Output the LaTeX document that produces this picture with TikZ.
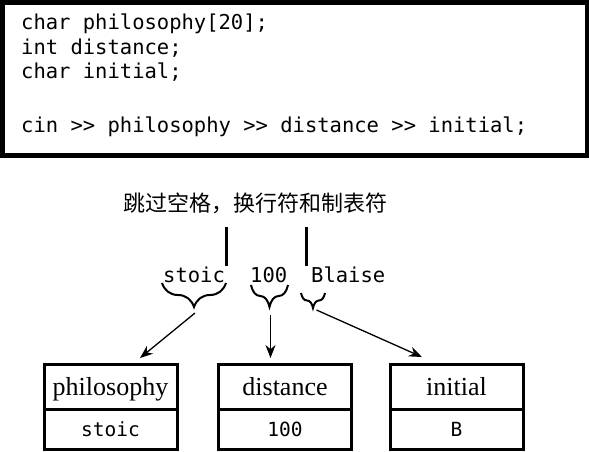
\documentclass[tikz,border=0pt]{standalone}
\usepackage{fontspec}
\setmainfont{Liberation Serif}
\setmonofont{DejaVu Sans Mono}
\newfontfamily\cjk{Noto Sans CJK SC}
\usetikzlibrary{calc}
\usetikzlibrary{positioning}
\usetikzlibrary{arrows.meta}
\usetikzlibrary{decorations.pathreplacing}

\begin{document}
\begin{tikzpicture}[x=1pt, y=-1pt,
    codeline/.style={anchor=base west, inner sep=0pt, font=\fontsize{20.5}{24}\ttfamily},
    namecell/.style={draw, line width=3pt, outer sep=0pt, minimum width=133pt, minimum height=45pt,
        text height=18pt, text depth=0pt, font=\fontsize{26}{30}\selectfont},
    valcell/.style={draw, line width=3pt, outer sep=0pt, minimum width=133pt, minimum height=40.5pt,
        font=\fontsize{19.5}{24}\ttfamily},
    wsbrace/.style={decorate, decoration={brace, mirror, amplitude=#1}, line width=2pt},
    feed/.style={-{Stealth[length=13pt, width=10pt]}, line width=1.3pt}
]
    \useasboundingbox (0,0) rectangle (589,451);

    % Source listing
    \draw[line width=4.5pt] (2.25,2.25) rectangle (586.75,155.5);
    \node[codeline] (decla) at (21,29.5) {char philosophy[20];};
    \node[codeline] (declb) at (21,54) {int distance;};
    \node[codeline] (declc) at (21,78.5) {char initial;};
    \node[codeline] (readin) at (21,132) {cin >> philosophy >> distance >> initial;};

    % Input stream
    \node[font=\cjk\fontsize{22}{26}\selectfont] (skiplabel) at (255,203) {跳过空格，换行符和制表符};
    \coordinate (gapa) at (226,266);
    \coordinate (gapb) at (306,266);
    \draw[line width=3pt] (gapa) -- ++(0,-39);
    \draw[line width=3pt] (gapb) -- ++(0,-39);

    \node[codeline] (stoic) at (163,282) {stoic};
    \node[codeline] (hundred) at (250,282) {100};
    \node[codeline] (blaise) at (311,282) {Blaise};

    \draw[wsbrace=24pt] (162,283) -- (226,283);
    \draw[wsbrace=22pt] (251,285) -- (288,285);
    \draw[wsbrace=15pt] (301,293) -- (325,293);
    \coordinate (stoictip) at (195,313);
    \coordinate (hundredtip) at (270.5,315);
    \coordinate (blaisetip) at (316.5,310);

    % Variables
    \node[namecell] (philosophy) at (110.5,386.5) {philosophy};
    \node[valcell, below=0pt of philosophy] (philval) {stoic};
    \node[namecell] (distance) at (285,386.5) {distance};
    \node[valcell, below=0pt of distance] (distval) {100};
    \node[namecell] (initial) at (456.5,386.5) {initial};
    \node[valcell, below=0pt of initial] (initval) {B};

    \coordinate (philin) at ($(philosophy.north)+(29.5,-6)$);
    \coordinate (distin) at ($(distance.north)+(-14.5,-6)$);
    \coordinate (initin) at ($(initial.north)+(-34.5,-7)$);
    \draw[feed] (stoictip) -- (philin);
    \draw[feed] (hundredtip) -- (distin);
    \draw[feed] (blaisetip) -- (initin);
\end{tikzpicture}
\end{document}
